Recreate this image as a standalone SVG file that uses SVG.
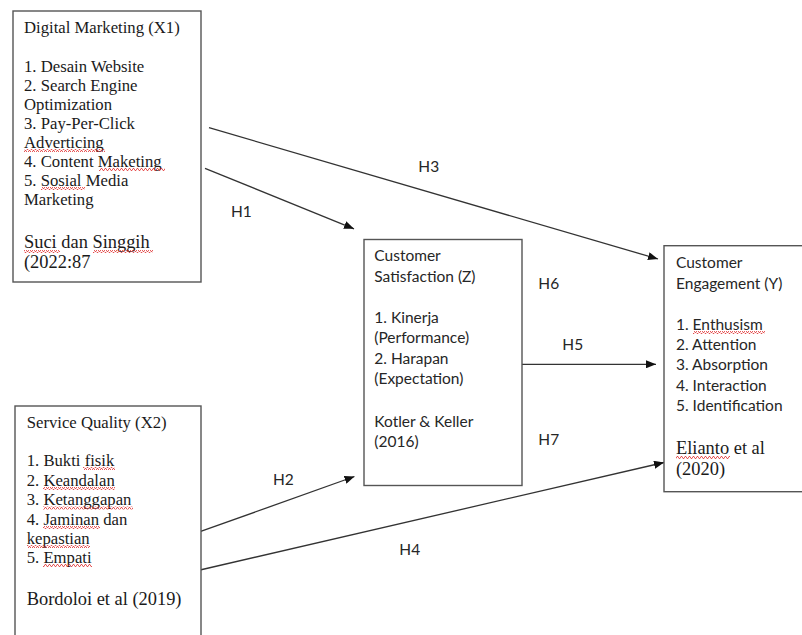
<svg xmlns="http://www.w3.org/2000/svg" width="802" height="635" viewBox="0 0 802 635">
<defs>
<style>
.box{fill:#fff;stroke:#555;stroke-width:1.4}
.serif{font-family:"Liberation Serif","Times New Roman",serif;font-size:16.7px;fill:#1a1a1a}
.ref{font-size:18.4px}
.sans{font-family:Lato,"Open Sans","Liberation Sans",sans-serif;font-size:15.5px;fill:#262626}
.lbl{font-family:Lato,"Open Sans","Liberation Sans",sans-serif;font-size:15.5px;fill:#262626}
.conn{stroke:#333;stroke-width:1.3;fill:none;marker-end:url(#arr)}
.sq{fill:url(#wave)}
</style>
<marker id="arr" viewBox="0 0 10 8" refX="10" refY="4" markerWidth="10" markerHeight="8" markerUnits="userSpaceOnUse" orient="auto">
<path d="M0 0 L10 4 L0 8 Z" fill="#111"/>
</marker>
<pattern id="wave" width="4" height="3" patternUnits="userSpaceOnUse">
<path d="M0 2.5 L1 0.5 L2 0.5 L3 2.5 L4 2.5" fill="none" stroke="#e03030" stroke-width="0.8"/>
</pattern>
</defs>
<rect width="802" height="635" fill="#fff"/>

<g id="connectors">
<line class="conn" x1="209" y1="127.7" x2="658" y2="259"/>
<line class="conn" x1="205" y1="168.3" x2="354" y2="228.8"/>
<line class="conn" x1="200" y1="531.7" x2="354.5" y2="476.5"/>
<line class="conn" x1="200" y1="570" x2="664" y2="462.5"/>
<line class="conn" x1="522" y1="364.3" x2="656" y2="364.3"/>
<text class="lbl" x="231" y="216.7">H1</text>
<text class="lbl" x="273" y="485">H2</text>
<text class="lbl" x="418.3" y="171.7">H3</text>
<text class="lbl" x="399.3" y="555">H4</text>
<text class="lbl" x="562.3" y="350">H5</text>
<text class="lbl" x="538.3" y="289">H6</text>
<text class="lbl" x="538.3" y="445">H7</text>
</g>

<g id="x1">
<rect class="box" x="13" y="11" width="188" height="271"/>
<text class="serif" x="24">
<tspan x="24" y="33">Digital Marketing (X1)</tspan>
<tspan x="24" y="71.7">1. Desain Website</tspan>
<tspan x="24" y="90.7">2. Search Engine</tspan>
<tspan x="24" y="109.7">Optimization</tspan>
<tspan x="24" y="128.8">3. Pay-Per-Click</tspan>
<tspan x="24" y="147.8">Adverticing</tspan>
<tspan x="24" y="166.9">4. Content Maketing</tspan>
<tspan x="24" y="185.9">5. Sosial Media</tspan>
<tspan x="24" y="205">Marketing</tspan>
</text>
<text class="serif ref" x="24">
<tspan x="24" y="248">Suci dan Singgih</tspan>
<tspan x="24" y="268">(2022:87</tspan>
</text>
</g>

<g id="x2">
<rect class="box" x="15" y="406" width="186" height="240"/>
<text class="serif" x="26.7">
<tspan x="26.7" y="428.3">Service Quality (X2)</tspan>
<tspan x="26.7" y="466">1. Bukti fisik</tspan>
<tspan x="26.7" y="485.5">2. Keandalan</tspan>
<tspan x="26.7" y="505">3. Ketanggapan</tspan>
<tspan x="26.7" y="524.5">4. Jaminan dan</tspan>
<tspan x="26.7" y="543.5">kepastian</tspan>
<tspan x="26.7" y="562.7">5. Empati</tspan>
</text>
<text class="serif ref" x="26.7" y="605">Bordoloi et al (2019)</text>
</g>

<g id="z">
<rect class="box" x="364" y="239.5" width="158" height="246"/>
<text class="sans" x="374.3">
<tspan x="374.3" y="260.7">Customer</tspan>
<tspan x="374.3" y="281.5">Satisfaction (Z)</tspan>
<tspan x="374.3" y="322.7">1. Kinerja</tspan>
<tspan x="374.3" y="343.3">(Performance)</tspan>
<tspan x="374.3" y="363.8">2. Harapan</tspan>
<tspan x="374.3" y="384.3">(Expectation)</tspan>
<tspan x="374.3" y="426.5">Kotler &amp; Keller</tspan>
<tspan x="374.3" y="446.7">(2016)</tspan>
</text>
</g>

<g id="y">
<rect class="box" x="664" y="245.7" width="150" height="246"/>
<text class="sans" x="676">
<tspan x="676" y="267.7">Customer</tspan>
<tspan x="676" y="288.5">Engagement (Y)</tspan>
<tspan x="676" y="329.5">1. Enthusism</tspan>
<tspan x="676" y="350">2. Attention</tspan>
<tspan x="676" y="370.3">3. Absorption</tspan>
<tspan x="676" y="390.5">4. Interaction</tspan>
<tspan x="676" y="411">5. Identification</tspan>
</text>
<text class="serif ref" x="676">
<tspan x="676" y="454">Elianto et al</tspan>
<tspan x="676" y="475">(2020)</tspan>
</text>
</g>

<g id="spellcheck">
<rect class="sq" x="24" y="149" width="81" height="3"/>
<rect class="sq" x="99" y="168" width="66" height="3"/>
<rect class="sq" x="41" y="187" width="44" height="3"/>
<rect class="sq" x="24" y="250" width="36" height="3"/>
<rect class="sq" x="93" y="250" width="60" height="3"/>
<rect class="sq" x="83" y="467" width="32" height="3"/>
<rect class="sq" x="43" y="487" width="72" height="3"/>
<rect class="sq" x="43" y="506.5" width="90" height="3"/>
<rect class="sq" x="43" y="526" width="57" height="3"/>
<rect class="sq" x="27" y="545" width="63" height="3"/>
<rect class="sq" x="43" y="564" width="49" height="3"/>
<rect class="sq" x="693" y="331" width="72" height="3"/>
<rect class="sq" x="676" y="456" width="54" height="3"/>
</g>
</svg>
